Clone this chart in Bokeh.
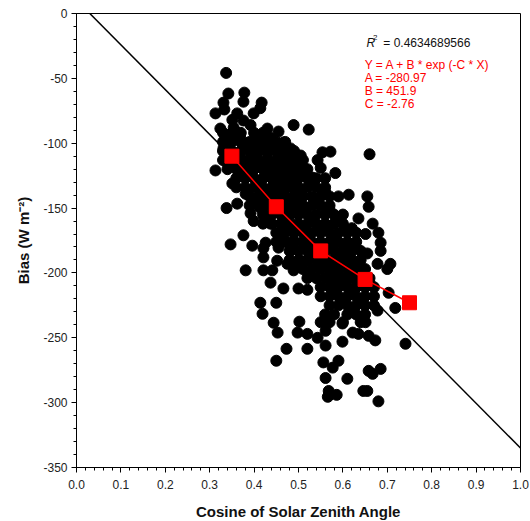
from bokeh.plotting import figure
from bokeh.models import Label, FixedTicker, NumeralTickFormatter
from bokeh.embed import file_html
from bokeh.resources import INLINE

# Observations: (cosine of solar zenith angle, bias in W m-2)
scatter_pts = [
    # upper part of the cloud
    (0.337, -45.8), (0.342, -61.7), (0.378, -61), (0.376, -68), (0.417, -68.7), (0.331, -68.7),
    (0.313, -77), (0.333, -74), (0.362, -77), (0.399, -77), (0.414, -73), (0.351, -82),
    (0.376, -82.5), (0.324, -88.7), (0.354, -88), (0.392, -86), (0.43, -88.7), (0.455, -91),
    (0.336, -95.7), (0.369, -95.7), (0.403, -94), (0.437, -95.7), (0.466, -99.5), (0.331, -104),
    (0.385, -100), (0.414, -100), (0.452, -102), (0.482, -104), (0.505, -109.5), (0.399, -108),
    (0.43, -108), (0.459, -109.5), (0.376, -113), (0.41, -115), (0.441, -116), (0.475, -113),
    (0.498, -119), (0.313, -121), (0.347, -117), (0.392, -121), (0.426, -121), (0.459, -122.5),
    (0.482, -121), (0.516, -121), (0.489, -86), (0.523, -89.5), (0.66, -108.5),
    (0.554, -107), (0.572, -106.5), (0.543, -113), (0.516, -120), (0.55, -119), (0.583, -123),
    # left and middle
    (0.351, -131), (0.376, -125), (0.338, -150), (0.362, -146.6), (0.381, -139), (0.399, -144),
    (0.392, -154), (0.399, -160), (0.426, -157), (0.437, -162), (0.414, -149.7), (0.347, -178),
    (0.376, -171), (0.396, -179), (0.426, -176.7), (0.421, -188), (0.452, -190.6), (0.455, -180.5),
    (0.381, -198), (0.421, -198), (0.441, -198), (0.437, -207.5), (0.475, -193), (0.482, -183),
    (0.459, -173), (0.466, -167.4), (0.489, -175), (0.505, -167.4), (0.511, -180.5), (0.505, -190.6),
    (0.489, -198), (0.471, -160), (0.482, -154), (0.452, -152), (0.498, -146.6), (0.505, -136.6),
    (0.466, -136.6), (0.489, -131), (0.52, -126.5), (0.421, -136.6), (0.414, -129), (0.444, -129),
    (0.482, -123.5), (0.421, -181), (0.493, -196),
    # lower left
    (0.466, -212), (0.5, -212), (0.52, -213), (0.414, -223), (0.45, -223), (0.419, -231.5),
    (0.444, -238.4), (0.502, -237.6), (0.453, -246), (0.498, -246), (0.52, -247), (0.473, -258.5),
    (0.52, -258.5), (0.45, -267.7),
    # lower right
    (0.543, -250), (0.561, -244.6), (0.561, -256), (0.599, -253), (0.622, -246), (0.635, -247),
    (0.658, -248.5), (0.673, -252), (0.741, -254.6), (0.556, -269), (0.577, -273), (0.59, -267.7),
    (0.561, -281), (0.61, -281.6), (0.658, -275.5), (0.667, -277.8), (0.685, -274), (0.568, -291),
    (0.566, -295.5), (0.586, -294), (0.646, -291), (0.655, -291), (0.68, -299),
    (0.678, -229), (0.651, -238), (0.599, -239), (0.55, -238),
    # right edge
    (0.531, -126.5), (0.613, -139.7), (0.655, -141), (0.658, -149), (0.635, -158), (0.667, -162),
    (0.68, -169), (0.651, -170), (0.685, -176.7), (0.685, -183), (0.655, -185), (0.707, -193),
    (0.7, -197), (0.628, -176.7), (0.617, -185), (0.703, -215.3), (0.718, -227), (0.678, -193),
    # dense core
    (0.33, -92), (0.35, -92), (0.37, -92), (0.40, -92), (0.42, -92),
    (0.33, -99), (0.35, -99), (0.37, -99), (0.39, -99), (0.41, -99), (0.43, -99), (0.45, -99), (0.47, -99),
    (0.33, -106), (0.35, -106), (0.37, -106), (0.39, -106), (0.41, -106), (0.43, -106), (0.45, -106),
    (0.47, -106), (0.49, -106),
    (0.33, -113), (0.35, -113), (0.37, -113), (0.39, -113), (0.41, -113), (0.43, -113), (0.45, -113),
    (0.47, -113), (0.49, -113), (0.51, -113),
    (0.34, -120), (0.36, -120), (0.38, -120), (0.40, -120), (0.42, -120), (0.44, -120), (0.46, -120),
    (0.48, -120), (0.50, -120), (0.52, -120),
    (0.36, -127), (0.38, -127), (0.40, -127), (0.42, -127), (0.44, -127), (0.46, -127), (0.48, -127),
    (0.50, -127), (0.52, -127), (0.54, -127), (0.56, -127),
    (0.36, -134), (0.38, -134), (0.40, -134), (0.42, -134), (0.44, -134), (0.46, -134), (0.48, -134),
    (0.50, -134), (0.52, -134), (0.54, -134), (0.56, -134),
    (0.39, -141), (0.41, -141), (0.43, -141), (0.45, -141), (0.47, -141), (0.49, -141), (0.51, -141),
    (0.53, -141), (0.55, -141), (0.57, -141), (0.59, -141),
    (0.39, -148), (0.41, -148), (0.43, -148), (0.45, -148), (0.47, -148), (0.49, -148), (0.51, -148),
    (0.53, -148), (0.55, -148), (0.57, -148),
    (0.42, -155), (0.44, -155), (0.46, -155), (0.48, -155), (0.50, -155), (0.52, -155), (0.54, -155),
    (0.56, -155), (0.58, -155), (0.60, -155),
    (0.42, -162), (0.44, -162), (0.46, -162), (0.48, -162), (0.50, -162), (0.52, -162), (0.54, -162),
    (0.56, -162), (0.58, -162), (0.60, -162),
    (0.45, -169), (0.47, -169), (0.49, -169), (0.51, -169), (0.53, -169), (0.55, -169), (0.57, -169),
    (0.59, -169), (0.61, -169), (0.63, -169),
    (0.45, -176), (0.47, -176), (0.49, -176), (0.51, -176), (0.53, -176), (0.55, -176), (0.57, -176),
    (0.59, -176), (0.61, -176), (0.63, -176),
    (0.48, -183), (0.50, -183), (0.52, -183), (0.54, -183), (0.56, -183), (0.58, -183), (0.60, -183),
    (0.62, -183), (0.64, -183),
    (0.48, -190), (0.50, -190), (0.52, -190), (0.54, -190), (0.56, -190), (0.58, -190), (0.60, -190),
    (0.62, -190), (0.64, -190),
    (0.51, -197), (0.53, -197), (0.55, -197), (0.57, -197), (0.59, -197), (0.61, -197), (0.63, -197),
    (0.65, -197),
    (0.52, -204), (0.54, -204), (0.56, -204), (0.58, -204), (0.60, -204), (0.62, -204), (0.64, -204),
    (0.66, -204),
    (0.55, -211), (0.57, -211), (0.59, -211), (0.61, -211), (0.63, -211), (0.65, -211), (0.67, -211),
    (0.55, -218), (0.57, -218), (0.59, -218), (0.61, -218), (0.63, -218), (0.65, -218), (0.67, -218),
    (0.57, -225), (0.59, -225), (0.61, -225), (0.63, -225), (0.65, -225), (0.67, -225),
    (0.56, -232), (0.58, -232), (0.61, -232), (0.63, -232), (0.65, -232),
    (0.57, -238), (0.60, -238), (0.64, -238),
    # in-between core samples
    (0.40, -102.5), (0.44, -102.5), (0.48, -109.5), (0.42, -116.5), (0.46, -116.5), (0.50, -123.5),
    (0.44, -123.5), (0.41, -130.5), (0.47, -130.5), (0.53, -130.5), (0.44, -137.5), (0.50, -137.5),
    (0.56, -137.5), (0.42, -144.5), (0.48, -144.5), (0.54, -144.5), (0.45, -151.5), (0.51, -151.5),
    (0.57, -151.5), (0.47, -158.5), (0.53, -158.5), (0.59, -158.5), (0.50, -165.5), (0.56, -165.5),
    (0.62, -165.5), (0.52, -172.5), (0.58, -172.5), (0.55, -179.5), (0.61, -179.5), (0.53, -186.5),
    (0.59, -186.5), (0.56, -193.5), (0.62, -193.5), (0.58, -200.5), (0.64, -200.5), (0.60, -207.5),
    (0.66, -207.5), (0.58, -214.5), (0.62, -214.5), (0.60, -221.5), (0.64, -221.5), (0.62, -228.5),
]
cos_sza = [pt[0] for pt in scatter_pts]
bias = [pt[1] for pt in scatter_pts]

# Binned means
bin_cos = [0.35, 0.45, 0.55, 0.65, 0.75]
bin_bias = [-110, -149, -183, -205, -223]

# Reference line
ref_x = [0.03, 1.0]
ref_y = [0, -335]

x_ticks = [0.0, 0.1, 0.2, 0.3, 0.4, 0.5, 0.6, 0.7, 0.8, 0.9, 1.0]
y_ticks = [0, -50, -100, -150, -200, -250, -300, -350]

fit_lines = ["Y = A + B * exp (-C * X)", "A = -280.97", "B = 451.9", "C = -2.76"]
r2_text = "= 0.4634689566"

FONT = "Liberation Sans"

p = figure(
    frame_width=444, frame_height=454,
    min_border_left=76, min_border_right=10, min_border_top=13, min_border_bottom=54,
    x_range=(0, 1), y_range=(-350, 0),
    output_backend="svg", toolbar_location=None,
    background_fill_color="white", border_fill_color="white",
)
p.outline_line_color = "black"
p.outline_line_width = 1
p.xgrid.visible = False
p.ygrid.visible = False

for ax in (p.xaxis[0], p.yaxis[0]):
    ax.axis_line_color = "black"
    ax.major_tick_line_color = "black"
    ax.minor_tick_line_color = "black"
    ax.major_tick_in = 0
    ax.major_tick_out = 5
    ax.minor_tick_in = 0
    ax.minor_tick_out = 3
    ax.major_label_text_font = FONT
    ax.major_label_text_font_size = "12px"
    ax.major_label_text_color = "#222222"
    ax.axis_label_text_font = FONT
    ax.axis_label_text_font_size = "15px"
    ax.axis_label_text_font_style = "bold"
    ax.axis_label_text_color = "#111111"

p.xaxis.ticker = FixedTicker(ticks=x_ticks, minor_ticks=[i / 50 for i in range(51)])
p.xaxis.formatter = NumeralTickFormatter(format="0.0")
p.yaxis.ticker = FixedTicker(ticks=y_ticks, minor_ticks=[-10 * i for i in range(36)])
p.yaxis.formatter = NumeralTickFormatter(format="0")
p.xaxis.axis_label = "Cosine of Solar Zenith Angle"
p.yaxis.axis_label = "Bias (W m\u207b\u00b2)"
p.xaxis.major_label_standoff = 7
p.xaxis.axis_label_standoff = 11
p.yaxis.major_label_standoff = 4
p.yaxis.axis_label_standoff = 8

p.line(ref_x, ref_y, line_color="black", line_width=1.5)
p.scatter(cos_sza, bias, marker="circle", size=11, fill_color="black", line_color="black")
p.line(bin_cos, bin_bias, line_color="#ff0000", line_width=1.6)
p.scatter(bin_cos, bin_bias, marker="square", size=14, fill_color="#ff0000", line_color="#ff0000")

# Statistics annotation
p.add_layout(Label(x=0.653, y=-22.4, text="R", text_font=FONT, text_font_size="12px",
                   text_font_style="italic", text_baseline="middle", text_color="#111111"))
p.add_layout(Label(x=0.668, y=-18.5, text="2", text_font=FONT, text_font_size="8px",
                   text_baseline="middle", text_color="#111111"))
p.add_layout(Label(x=0.691, y=-22.4, text=r2_text, text_font=FONT, text_font_size="12px",
                   text_baseline="middle", text_color="#111111"))
for i, line in enumerate(fit_lines):
    p.add_layout(Label(x=0.649, y=-39.6 - 10.1 * i, text=line, text_font=FONT,
                       text_font_size="12px", text_baseline="middle", text_color="#ff0000"))

open("out.html", "w").write(file_html(p, INLINE))
